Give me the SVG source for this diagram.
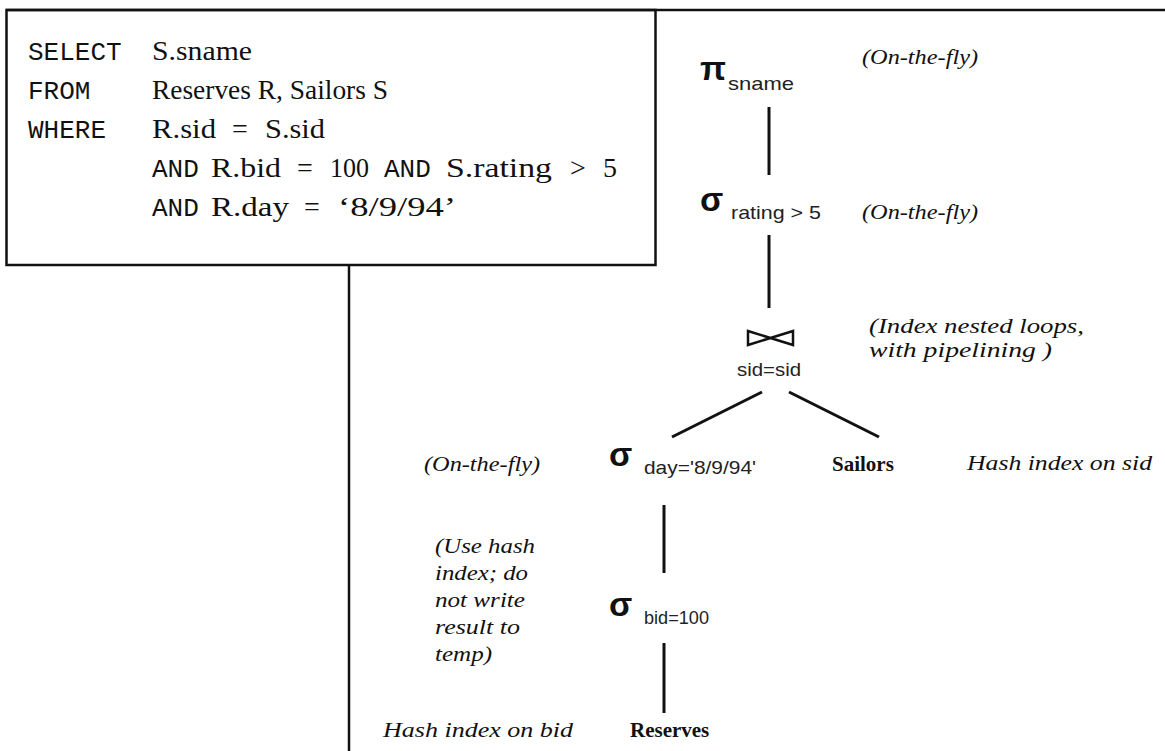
<svg xmlns="http://www.w3.org/2000/svg" width="1165" height="751" viewBox="0 0 1165 751">
<style>
text{white-space:pre}
.mono{font-family:"Liberation Mono","DejaVu Sans Mono",monospace;font-size:26px;fill:#111}
.ser{font-family:"Liberation Serif","DejaVu Serif",serif;font-size:28px;fill:#111}
.note{font-family:"Liberation Serif","DejaVu Serif",serif;font-style:italic;font-size:22px;fill:#111}
.rel{font-family:"Liberation Serif","DejaVu Serif",serif;font-weight:bold;font-size:21px;fill:#111}
.op{font-family:"Liberation Sans","DejaVu Sans",sans-serif;font-weight:bold;font-size:34px;fill:#111}
.sub{font-family:"Liberation Sans","DejaVu Sans",sans-serif;font-size:19px;fill:#222}
.edge{stroke:#111;stroke-width:3;fill:none}
.frame{stroke:#111;stroke-width:2.5;fill:none}
</style>
<rect width="1165" height="751" fill="#fff"/>
<!-- frame lines -->
<g id="frame">
<line class="frame" x1="6" y1="10" x2="1165" y2="10"/>
<rect class="frame" x="6.5" y="10" width="649" height="255"/>
<line class="frame" x1="349" y1="265" x2="349" y2="751"/>
</g>
<!-- SQL query -->
<g id="query">
<text class="mono" x="28" y="60">SELECT</text>
<text class="ser" x="152" y="60" textLength="100" lengthAdjust="spacingAndGlyphs">S.sname</text>
<text class="mono" x="28" y="99">FROM</text>
<text class="ser" x="152" y="99" textLength="236" lengthAdjust="spacingAndGlyphs">Reserves R, Sailors S</text>
<text class="mono" x="28" y="138">WHERE</text>
<text class="ser" x="152" y="138" textLength="64" lengthAdjust="spacingAndGlyphs">R.sid</text>
<text class="ser" x="232" y="138">=</text>
<text class="ser" x="265" y="138" textLength="60" lengthAdjust="spacingAndGlyphs">S.sid</text>
<text class="mono" x="152" y="177">AND</text>
<text class="ser" x="211" y="177" textLength="70" lengthAdjust="spacingAndGlyphs">R.bid</text>
<text class="ser" x="297" y="177">=</text>
<text class="ser" x="330" y="177" textLength="39" lengthAdjust="spacingAndGlyphs">100</text>
<text class="mono" x="384" y="177">AND</text>
<text class="ser" x="446" y="177" textLength="106" lengthAdjust="spacingAndGlyphs">S.rating</text>
<text class="ser" x="570" y="177">&gt;</text>
<text class="ser" x="603" y="177">5</text>
<text class="mono" x="152" y="216">AND</text>
<text class="ser" x="211" y="216" textLength="78" lengthAdjust="spacingAndGlyphs">R.day</text>
<text class="ser" x="304" y="216">=</text>
<text class="ser" x="338" y="216" textLength="118" lengthAdjust="spacingAndGlyphs">‘8/9/94’</text>
</g>
<!-- plan edges -->
<g id="edges">
<line class="edge" x1="769" y1="107" x2="769" y2="175"/>
<line class="edge" x1="769" y1="235" x2="769" y2="308"/>
<line class="edge" x1="762" y1="392" x2="672" y2="437"/>
<line class="edge" x1="789" y1="392" x2="879" y2="437"/>
<line class="edge" x1="664" y1="505" x2="664" y2="573"/>
<line class="edge" x1="664" y1="643" x2="664" y2="713"/>
</g>
<g id="project">
<text class="op" x="700" y="80">π</text>
<text class="sub" x="728" y="90" textLength="66" lengthAdjust="spacingAndGlyphs">sname</text>
<text class="note" x="862" y="64" textLength="116" lengthAdjust="spacingAndGlyphs">(On-the-fly)</text>
</g>
<g id="sel-rating">
<text class="op" x="700" y="211">σ</text>
<text class="sub" x="731" y="219" textLength="90" lengthAdjust="spacingAndGlyphs">rating &gt; 5</text>
<text class="note" x="862" y="219" textLength="116" lengthAdjust="spacingAndGlyphs">(On-the-fly)</text>
</g>
<g id="join">
<path d="M748,331 L748,345 L793,331 L793,345 Z" stroke="#111" stroke-width="2.5" fill="none"/>
<text class="sub" x="737" y="376" textLength="64" lengthAdjust="spacingAndGlyphs">sid=sid</text>
<text class="note" x="869" y="333" textLength="215" lengthAdjust="spacingAndGlyphs">(Index nested loops,</text>
<text class="note" x="869" y="357" textLength="183" lengthAdjust="spacingAndGlyphs">with pipelining )</text>
</g>
<g id="sel-day">
<text class="op" x="609" y="466">σ</text>
<text class="sub" x="644" y="474" textLength="112" lengthAdjust="spacingAndGlyphs">day='8/9/94'</text>
<text class="note" x="424" y="471" textLength="116" lengthAdjust="spacingAndGlyphs">(On-the-fly)</text>
</g>
<g id="sailors">
<text class="rel" x="832" y="471">Sailors</text>
<text class="note" x="967" y="470" textLength="185" lengthAdjust="spacingAndGlyphs">Hash index on sid</text>
</g>
<g id="sel-bid">
<text class="op" x="609" y="616">σ</text>
<text class="sub" x="644" y="624" textLength="65" lengthAdjust="spacingAndGlyphs">bid=100</text>
<text class="note" x="435" y="553" textLength="100" lengthAdjust="spacingAndGlyphs">(Use hash</text>
<text class="note" x="435" y="580" textLength="93" lengthAdjust="spacingAndGlyphs">index; do</text>
<text class="note" x="435" y="607" textLength="90" lengthAdjust="spacingAndGlyphs">not write</text>
<text class="note" x="435" y="634" textLength="85" lengthAdjust="spacingAndGlyphs">result to</text>
<text class="note" x="435" y="661" textLength="57" lengthAdjust="spacingAndGlyphs">temp)</text>
</g>
<g id="reserves">
<text class="rel" x="630" y="737">Reserves</text>
<text class="note" x="383" y="737" textLength="190" lengthAdjust="spacingAndGlyphs">Hash index on bid</text>
</g>
</svg>
